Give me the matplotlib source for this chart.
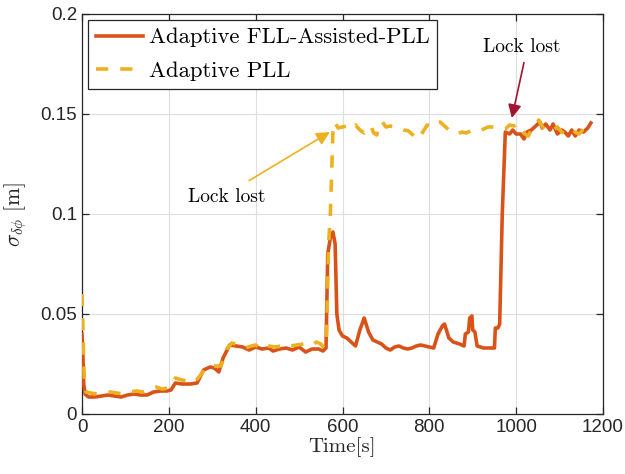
import matplotlib
matplotlib.use("Agg")
import matplotlib.pyplot as plt
from matplotlib.ticker import FixedLocator, FixedFormatter

plt.rcParams['mathtext.fontset'] = 'cm'

# ---- data ----
fll_t = [0, 2, 4, 7, 15, 30, 45, 60, 75, 90, 105, 120, 135, 150, 165, 180, 195, 205, 215, 230,
         250, 265, 280, 295, 305, 315, 325, 340, 355, 370, 385, 400, 415, 430, 440, 455, 470,
         485, 500, 515, 530, 545, 555, 562, 566, 572, 578, 583, 587, 592, 600, 610, 620, 630,
         640, 650, 660, 670, 680, 690, 700, 710, 720, 730, 740, 750, 760, 770, 780, 790, 800,
         810, 820, 830, 835, 845, 855, 870, 880, 883, 890, 893, 898, 900, 905, 910, 925, 940,
         950, 952, 958, 962, 968, 975, 985, 992, 1000, 1010, 1018, 1025, 1035, 1045, 1055,
         1060, 1068, 1078, 1085, 1095, 1105, 1112, 1120, 1128, 1136, 1145, 1155, 1165, 1172]
fll_v = [0.040, 0.030, 0.015, 0.010, 0.0085, 0.0085, 0.009, 0.0095, 0.009, 0.0085, 0.0095,
         0.010, 0.0095, 0.0095, 0.011, 0.0115, 0.0115, 0.012, 0.0155, 0.015, 0.015, 0.0155,
         0.022, 0.0235, 0.023, 0.021, 0.028, 0.0345, 0.034, 0.0335, 0.032, 0.0335, 0.0325,
         0.033, 0.0315, 0.0325, 0.033, 0.032, 0.0335, 0.031, 0.0325, 0.0325, 0.0315, 0.033,
         0.080, 0.088, 0.091, 0.085, 0.050, 0.042, 0.039, 0.038, 0.036, 0.034, 0.042, 0.048,
         0.041, 0.037, 0.036, 0.035, 0.033, 0.032, 0.0335, 0.034, 0.033, 0.0325, 0.033, 0.034,
         0.0345, 0.034, 0.0335, 0.033, 0.040, 0.044, 0.045, 0.038, 0.036, 0.035, 0.034, 0.040,
         0.041, 0.048, 0.049, 0.042, 0.041, 0.034, 0.033, 0.033, 0.033, 0.043, 0.043, 0.045,
         0.100, 0.141, 0.140, 0.142, 0.140, 0.140, 0.1375, 0.141, 0.142, 0.144, 0.146, 0.143,
         0.145, 0.142, 0.145, 0.140, 0.142, 0.141, 0.139, 0.142, 0.139, 0.142, 0.141, 0.143,
         0.1455]

pll_t = [0, 2, 4, 6, 9, 20, 35, 50, 65, 80, 95, 110, 125, 140, 155, 170, 185, 200, 215, 230,
         245, 260, 275, 290, 305, 320, 335, 345, 355, 365, 375, 390, 400, 410, 420, 430, 445,
         460, 470, 480, 495, 510, 520, 530, 540, 550, 558, 563, 568, 572, 578, 582, 590, 600,
         610, 620, 630, 640, 650, 658, 665, 672, 679, 685, 692, 700, 710, 720, 730, 742, 752,
         765, 775, 785, 795, 805, 815, 825, 835, 845, 855, 865, 875, 885, 895, 905, 915, 925,
         935, 945, 955, 965, 975, 985, 995, 1005, 1012, 1020, 1028, 1035, 1045, 1052, 1058,
         1066, 1075, 1085, 1095, 1105, 1115, 1125, 1135, 1145, 1155, 1165, 1172]
pll_v = [0.060, 0.045, 0.025, 0.015, 0.011, 0.0105, 0.010, 0.0105, 0.011, 0.0105, 0.010,
         0.011, 0.0115, 0.011, 0.0125, 0.0135, 0.0125, 0.013, 0.018, 0.017, 0.0165, 0.016,
         0.020, 0.024, 0.024, 0.024, 0.033, 0.0355, 0.035, 0.0345, 0.033, 0.034, 0.0345,
         0.033, 0.0345, 0.034, 0.0335, 0.034, 0.035, 0.034, 0.0345, 0.035, 0.034, 0.0345,
         0.036, 0.035, 0.033, 0.036, 0.085, 0.100, 0.141, 0.146, 0.143, 0.1435, 0.144, 0.1425,
         0.1445, 0.142, 0.1405, 0.143, 0.144, 0.1405, 0.1395, 0.145, 0.146, 0.1435, 0.144,
         0.1435, 0.1435, 0.142, 0.1415, 0.139, 0.1375, 0.141, 0.1445, 0.1435, 0.1455, 0.146,
         0.144, 0.142, 0.141, 0.140, 0.141, 0.1405, 0.1415, 0.142, 0.1415, 0.1425, 0.1435,
         0.1435, 0.143, 0.143, 0.1425, 0.1445, 0.144, 0.145, 0.1425, 0.140, 0.139, 0.142,
         0.145, 0.147, 0.1445, 0.142, 0.1425, 0.142, 0.1435, 0.141, 0.1395, 0.139, 0.141,
         0.140, 0.1425, 0.1435, 0.144]

x_ticks = [0, 200, 400, 600, 800, 1000, 1200]
x_tick_labels = ['0', '200', '400', '600', '800', '1000', '1200']
y_ticks = [0, 0.05, 0.1, 0.15, 0.2]
y_tick_labels = ['0', '0.05', '0.1', '0.15', '0.2']

series_labels = ['Adaptive FLL-Assisted-PLL', 'Adaptive PLL']
annot_text = 'Lock lost'

# ---- figure ----
fig = plt.figure(figsize=(6.25, 4.74), dpi=100)
ax = fig.add_axes([82/625, 60/474, 521/625, 400/474])

c_fll = '#D95319'
c_pll = '#EDB120'
c_arrow2 = '#A2142F'
axcol = '#262626'

ax.plot(fll_t, fll_v, color=c_fll, lw=2.6, label=series_labels[0], zorder=3)
ax.plot(pll_t, pll_v, color=c_pll, lw=2.6, ls=(0, (3.4, 3.3)), label=series_labels[1], zorder=4)

ax.set_xlim(0, 1200)
ax.set_ylim(0, 0.2)
ax.xaxis.set_major_locator(FixedLocator(x_ticks))
ax.xaxis.set_major_formatter(FixedFormatter(x_tick_labels))
ax.yaxis.set_major_locator(FixedLocator(y_ticks))
ax.yaxis.set_major_formatter(FixedFormatter(y_tick_labels))

ax.grid(True, color='#dedede', lw=0.8)
ax.set_axisbelow(True)
for s in ax.spines.values():
    s.set_color(axcol)
    s.set_linewidth(0.9)
ax.tick_params(direction='in', top=True, right=True, length=5, width=0.9, colors=axcol,
               labelsize=13.5)
for lab in ax.get_xticklabels() + ax.get_yticklabels():
    lab.set_family('Liberation Sans')
    lab.set_color(axcol)

ax.set_xlabel('Time[s]', family='cmr10', fontsize=15, color=axcol, labelpad=1)
ax.set_ylabel(r'$\sigma_{\delta\phi}\ [\mathrm{m}]$', fontsize=15.5, color=axcol, labelpad=8)

leg = ax.legend(loc='upper left', prop={'family': 'cmr10', 'size': 16.3}, fancybox=False,
                edgecolor=axcol, framealpha=1, handlelength=2.1, borderaxespad=0.25,
                handletextpad=0.25, borderpad=0.35, labelspacing=0.6)
leg.get_frame().set_linewidth(0.9)

# yellow "Lock lost"
ax.text(333, 0.1087, annot_text, fontsize=14, family='cmr10', color='black',
        ha='center', va='center')
ax.annotate('', xy=(571, 0.141), xytext=(385, 0.1167),
            arrowprops=dict(arrowstyle='-|>', color=c_pll, lw=1.2, mutation_scale=20,
                            shrinkA=0, shrinkB=0))
# red "Lock lost"
ax.text(1013, 0.1837, annot_text, fontsize=14, family='cmr10', color='black',
        ha='center', va='center')
ax.annotate('', xy=(990, 0.148), xytext=(1018, 0.1757),
            arrowprops=dict(arrowstyle='-|>', color=c_arrow2, lw=1.2, mutation_scale=20,
                            shrinkA=0, shrinkB=0))

fig.savefig('out.png', dpi=100)
